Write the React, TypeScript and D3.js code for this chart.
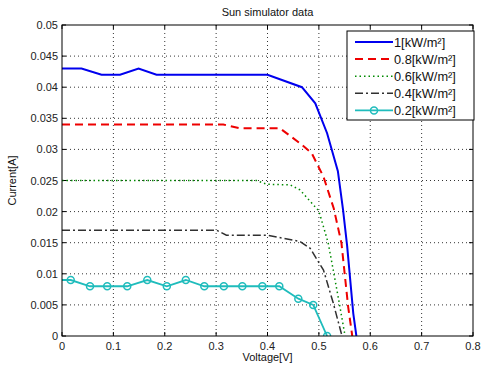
import * as d3 from 'd3'
import { useEffect, useRef } from 'react'

const xTicks = [0, 0.1, 0.2, 0.3, 0.4, 0.5, 0.6, 0.7, 0.8]
const xTickLabels = ['0', '0.1', '0.2', '0.3', '0.4', '0.5', '0.6', '0.7', '0.8']
const yTicks = [0, 0.005, 0.01, 0.015, 0.02, 0.025, 0.03, 0.035, 0.04, 0.045, 0.05]
const yTickLabels = ['0', '0.005', '0.01', '0.015', '0.02', '0.025', '0.03', '0.035', '0.04', '0.045', '0.05']

const v100 = [0, 0.038, 0.077, 0.113, 0.149, 0.184, 0.25, 0.3, 0.35, 0.4, 0.467, 0.493, 0.516, 0.537, 0.547, 0.555, 0.567, 0.573]
const i100 = [0.043, 0.043, 0.042, 0.042, 0.043, 0.042, 0.042, 0.042, 0.042, 0.042, 0.040, 0.0374, 0.0326, 0.0265, 0.0203, 0.0145, 0.0036, 0]

const v80 = [0, 0.1, 0.2, 0.314, 0.346, 0.424, 0.463, 0.486, 0.509, 0.529, 0.544, 0.557, 0.565]
const i80 = [0.034, 0.034, 0.034, 0.034, 0.0334, 0.0334, 0.031, 0.0294, 0.0256, 0.0205, 0.0149, 0.0047, 0]

const v60 = [0, 0.2, 0.379, 0.398, 0.444, 0.463, 0.5, 0.518, 0.528, 0.541, 0.551]
const i60 = [0.025, 0.025, 0.025, 0.0244, 0.0243, 0.0235, 0.0201, 0.015, 0.0106, 0.0047, 0]

const v40 = [0, 0.1, 0.2, 0.301, 0.32, 0.4, 0.463, 0.483, 0.509, 0.528, 0.545]
const i40 = [0.017, 0.017, 0.017, 0.017, 0.0162, 0.0162, 0.0152, 0.0141, 0.0106, 0.0053, 0]

const v20 = [-0.02, 0.017, 0.0545, 0.088, 0.127, 0.166, 0.204, 0.241, 0.277, 0.315, 0.351, 0.39, 0.423, 0.46, 0.489, 0.516]
const i20 = [0.009, 0.009, 0.008, 0.008, 0.008, 0.009, 0.008, 0.009, 0.008, 0.008, 0.008, 0.008, 0.008, 0.006, 0.005, 0]

const seriesNames = ['1[kW/m²]', '0.8[kW/m²]', '0.6[kW/m²]', '0.4[kW/m²]', '0.2[kW/m²]']

const series = [
    { name: seriesNames[0], v: v100, i: i100, color: '#0000ee', dash: null, width: 2, marker: false },
    { name: seriesNames[1], v: v80, i: i80, color: '#ee0000', dash: '8,5', width: 2, marker: false },
    { name: seriesNames[2], v: v60, i: i60, color: '#008a00', dash: '1.5,3', width: 1.5, marker: false },
    { name: seriesNames[3], v: v40, i: i40, color: '#303030', dash: '8,3,2,3', width: 1.5, marker: false },
    { name: seriesNames[4], v: v20, i: i20, color: '#1fbcbc', dash: null, width: 1.8, marker: true },
]

const W = 482
const H = 370
const margin = { top: 25, right: 9, bottom: 34, left: 62 }
const FONT = 'Liberation Sans, Arial, sans-serif'

const drawChart = (el: SVGSVGElement) => {
    const svg = d3.select(el)
    svg.selectAll('*').remove()
    const innerW = W - margin.left - margin.right
    const innerH = H - margin.top - margin.bottom

    const x = d3.scaleLinear().domain([0, 0.8]).range([0, innerW])
    const y = d3.scaleLinear().domain([0, 0.05]).range([innerH, 0])

    svg.append('rect').attr('width', W).attr('height', H).attr('fill', '#fff')

    svg.append('defs').append('clipPath').attr('id', 'plotClip')
        .append('rect').attr('width', innerW).attr('height', innerH)

    const g = svg.append('g').attr('transform', `translate(${margin.left},${margin.top})`)

    // grid
    xTicks.slice(1, -1).forEach(t => {
        g.append('line').attr('x1', x(t)).attr('x2', x(t)).attr('y1', 0).attr('y2', innerH)
            .attr('stroke', '#000').attr('stroke-width', 0.8).attr('stroke-dasharray', '1,3')
    })
    yTicks.slice(1, -1).forEach(t => {
        g.append('line').attr('x1', 0).attr('x2', innerW).attr('y1', y(t)).attr('y2', y(t))
            .attr('stroke', '#000').attr('stroke-width', 0.8).attr('stroke-dasharray', '1,3')
    })

    // ticks (inward, both sides)
    xTicks.forEach((t, k) => {
        g.append('line').attr('x1', x(t)).attr('x2', x(t)).attr('y1', innerH).attr('y2', innerH - 4).attr('stroke', '#000')
        g.append('line').attr('x1', x(t)).attr('x2', x(t)).attr('y1', 0).attr('y2', 4).attr('stroke', '#000')
        g.append('text').attr('x', x(t)).attr('y', innerH + 14).attr('text-anchor', 'middle')
            .attr('font-family', FONT).attr('font-size', 11).attr('fill', '#222').text(xTickLabels[k])
    })
    yTicks.forEach((t, k) => {
        g.append('line').attr('x1', 0).attr('x2', 4).attr('y1', y(t)).attr('y2', y(t)).attr('stroke', '#000')
        g.append('line').attr('x1', innerW).attr('x2', innerW - 4).attr('y1', y(t)).attr('y2', y(t)).attr('stroke', '#000')
        g.append('text').attr('x', -4).attr('y', y(t) + 4).attr('text-anchor', 'end')
            .attr('font-family', FONT).attr('font-size', 11).attr('fill', '#222').text(yTickLabels[k])
    })

    // curves
    const plot = g.append('g').attr('clip-path', 'url(#plotClip)')
    series.forEach(s => {
        const pts = s.v.map((v, k) => [v, s.i[k]] as [number, number])
        const line = d3.line<[number, number]>().x(d => x(d[0])).y(d => y(d[1]))
        const p = plot.append('path').datum(pts).attr('d', line).attr('fill', 'none')
            .attr('stroke', s.color).attr('stroke-width', s.width)
        if (s.dash) p.attr('stroke-dasharray', s.dash)
        if (s.marker) {
            plot.selectAll(null).data(pts).enter().append('circle')
                .attr('cx', d => x(d[0])).attr('cy', d => y(d[1])).attr('r', 3.5)
                .attr('fill', 'none').attr('stroke', s.color).attr('stroke-width', 1.5)
        }
    })

    // box
    g.append('rect').attr('width', innerW).attr('height', innerH).attr('fill', 'none').attr('stroke', '#000')

    // legend
    const lg = g.append('g').attr('transform', `translate(${innerW - 126},6)`)
    lg.append('rect').attr('width', 127).attr('height', 89).attr('fill', '#fff').attr('stroke', '#000')
    series.forEach((s, k) => {
        const ly = 11 + k * 17.1
        const l = lg.append('line').attr('x1', 8).attr('x2', 46).attr('y1', ly).attr('y2', ly)
            .attr('stroke', s.color).attr('stroke-width', s.width)
        if (s.dash) l.attr('stroke-dasharray', s.dash)
        if (s.marker) {
            lg.append('circle').attr('cx', 27).attr('cy', ly).attr('r', 3.5).attr('fill', 'none')
                .attr('stroke', s.color).attr('stroke-width', 1.5)
        }
        lg.append('text').attr('x', 47).attr('y', ly + 4.5).attr('font-family', FONT).attr('font-size', 12.8)
            .attr('fill', '#111').text(s.name)
    })

    // titles
    svg.append('text').attr('x', margin.left + innerW / 2).attr('y', 16).attr('text-anchor', 'middle')
        .attr('font-family', FONT).attr('font-size', 11).attr('fill', '#111').text('Sun simulator data')
    svg.append('text').attr('x', margin.left + innerW / 2).attr('y', 361).attr('text-anchor', 'middle')
        .attr('font-family', FONT).attr('font-size', 11).attr('fill', '#111').text('Voltage[V]')
    svg.append('text').attr('transform', `translate(16,${margin.top + innerH / 2}) rotate(-90)`)
        .attr('text-anchor', 'middle').attr('font-family', FONT).attr('font-size', 11).attr('fill', '#111')
        .text('Current[A]')
}

const App = () => {
    const ref = useRef<SVGSVGElement>(null)
    useEffect(() => {
        if (ref.current) drawChart(ref.current)
    }, [])
    return (
        <div style={{ position: 'absolute', left: 0, top: 0 }}>
            <svg ref={ref} width={W} height={H} style={{ display: 'block' }} />
        </div>
    )
}

export default App
